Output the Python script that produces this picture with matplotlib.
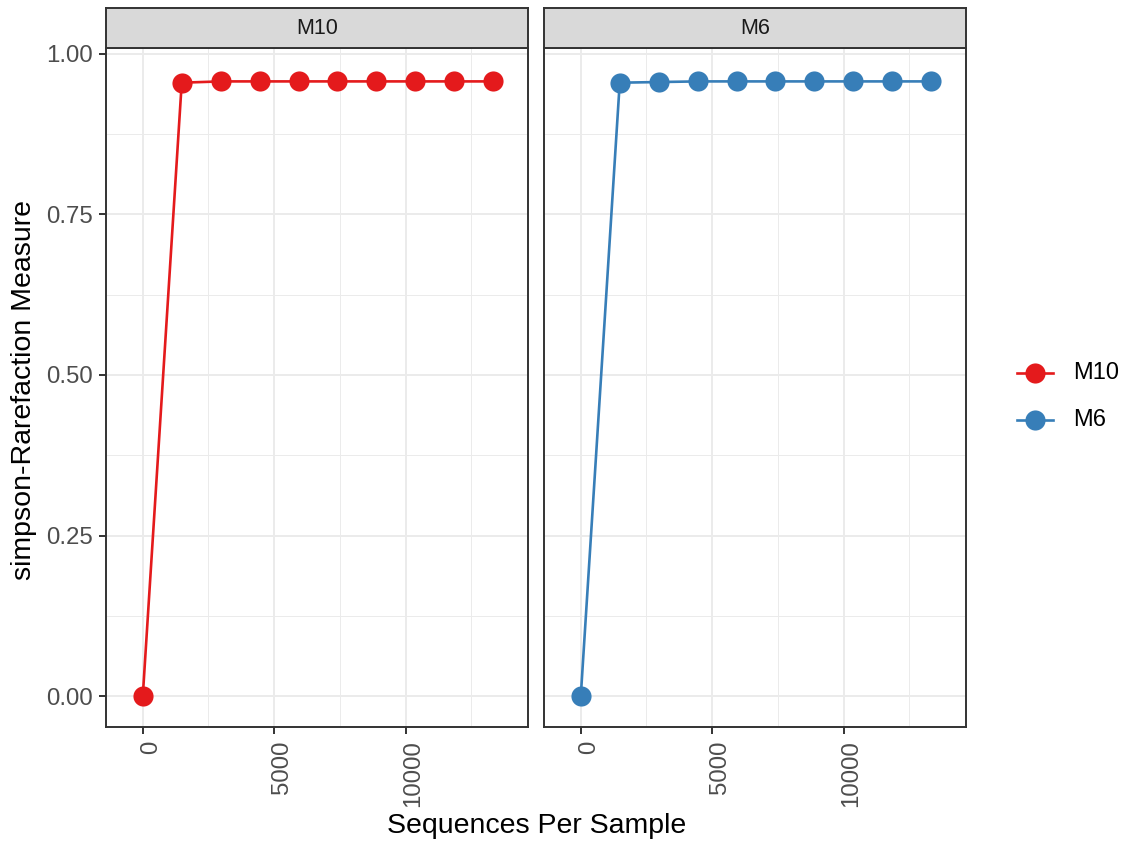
import numpy as np
import matplotlib
matplotlib.use("Agg")
import matplotlib.pyplot as plt
import matplotlib.transforms as mtransforms
from matplotlib.lines import Line2D

plt.rcParams['font.family'] = ['Liberation Sans', 'DejaVu Sans']

# rarefaction depths and simpson values per sample
depths = [0, 1482, 2964, 4446, 5928, 7410, 8892, 10374, 11856, 13338]
simpson_m10 = [0.0, 0.955, 0.957, 0.957, 0.957, 0.957, 0.957, 0.957, 0.957, 0.957]
simpson_m6 = [0.0, 0.955, 0.956, 0.957, 0.957, 0.957, 0.957, 0.957, 0.957, 0.957]
samples = ['M10', 'M6']
colors = {'M10': '#E41A1C', 'M6': '#377EB8'}
values = {'M10': simpson_m10, 'M6': simpson_m6}

W, H = 1127, 848
fig = plt.figure(figsize=(W / 100, H / 100), dpi=100)
fig.patch.set_facecolor('white')

def px_axes(x0, y0, x1, y1):
    # pixel box (from top-left) -> figure axes
    return fig.add_axes([x0 / W, 1 - y1 / H, (x1 - x0) / W, (y1 - y0) / H])

panels = [(106, 528), (544, 966)]
top, bottom, strip_top = 48, 727, 8
grid_col = '#EBEBEB'
frame_col = '#333333'
tick_col = '#4D4D4D'
shift = mtransforms.ScaledTranslation(8 / 100, 0, fig.dpi_scale_trans)

for i, (s, (x0, x1)) in enumerate(zip(samples, panels)):
    ax = px_axes(x0, top, x1, bottom)
    ax.set_xlim(-1400, 14660)
    ax.set_ylim(-0.048, 1.009)
    ax.set_xticks([0, 5000, 10000])
    ax.set_xticks([2500, 7500, 12500], minor=True)
    ax.set_yticks([0, 0.25, 0.5, 0.75, 1.0])
    ax.set_yticks([0.125, 0.375, 0.625, 0.875], minor=True)
    ax.grid(True, which='major', color=grid_col, lw=1.4)
    ax.grid(True, which='minor', color=grid_col, lw=0.7)
    ax.set_axisbelow(True)
    ax.plot(depths, values[s], color=colors[s], lw=1.9, marker='o',
            ms=14.5, markeredgewidth=0, zorder=3)
    for sp in ax.spines.values():
        sp.set_color(frame_col)
        sp.set_linewidth(1.4)
    ax.tick_params(which='major', length=5.2, width=1.4, color=frame_col,
                   labelcolor=tick_col, labelsize=17.3, pad=4.5)
    ax.tick_params(which='minor', length=0)
    ax.tick_params(axis='x', labelrotation=90, pad=4.5)
    for lbl in ax.get_xticklabels():
        lbl.set_transform(lbl.get_transform() + shift)
    if i == 0:
        ax.set_yticklabels(['0.00', '0.25', '0.50', '0.75', '1.00'])
    else:
        ax.tick_params(axis='y', length=0, labelleft=False)

    # facet strip
    st = px_axes(x0, strip_top, x1, top)
    st.set_facecolor('#D9D9D9')
    st.set_xticks([])
    st.set_yticks([])
    for sp in st.spines.values():
        sp.set_color(frame_col)
        sp.set_linewidth(1.4)
    st.text(0.5, 0.48, s, ha='center', va='center', fontsize=15.5,
            color='#1A1A1A', transform=st.transAxes)

fig.text(537 / W, 1 - 826 / H, 'Sequences Per Sample', ha='center',
         va='center', fontsize=20.5)
fig.text(24 / W, 1 - 390 / H, 'simpson-Rarefaction Measure', ha='center',
         va='center', rotation=90, fontsize=20.5)

# legend keys drawn by hand
for s, ky in zip(samples, [373, 420]):
    y = 1 - ky / H
    fig.add_artist(Line2D([1017 / W, 1053 / W], [y, y], color=colors[s],
                          lw=1.9, transform=fig.transFigure))
    fig.add_artist(Line2D([1035 / W], [y], color=colors[s], marker='o',
                          ms=14.5, markeredgewidth=0,
                          transform=fig.transFigure))
    fig.text(1073 / W, y, s, ha='left', va='center', fontsize=17)

fig.savefig('out.png', dpi=100)
